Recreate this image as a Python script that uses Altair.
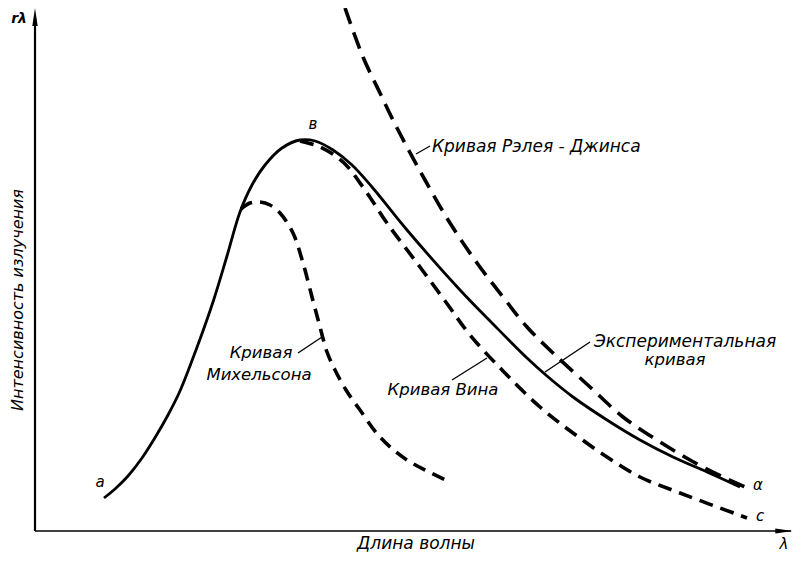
import altair as alt
import pandas as pd

# Arbitrary units: wavelength (x) and radiation intensity (y)
exp_x = [13.8, 16.0, 18.6, 21.4, 24.2, 26.6, 29.0, 32.2, 35.6, 38.4, 41.0, 43.4, 46.0, 49.4, 53.0, 56.0, 59.6,
         63.4, 67.4, 74.4, 85.0, 91.6, 98.4, 102.4, 107.6, 114.4, 121.0, 127.6, 134.4, 141.0]
exp_y = [6.6, 8.4, 11.0, 14.6, 19.0, 23.2, 28.0, 36.2, 45.8, 55.0, 63.8, 69.2, 73.2, 76.6, 78.2, 78.0, 76.2,
         73.2, 68.8, 60.2, 48.2, 41.4, 34.6, 31.0, 26.8, 22.2, 18.2, 14.8, 11.8, 8.8]

wien_x = [53.0, 57.0, 61.6, 66.0, 70.4, 77.0, 82.6, 87.0, 93.6, 101.0, 107.6, 114.4, 121.0, 129.0, 142.4]
wien_y = [78.0, 76.8, 73.8, 68.2, 61.6, 52.8, 45.2, 39.2, 32.0, 24.8, 19.6, 14.8, 10.8, 7.6, 2.6]

rj_x = [62.0, 65.6, 69.0, 71.6, 74.4, 78.0, 83.0, 88.4, 93.6, 98.4, 103.6, 111.0, 117.6, 124.4, 131.0, 137.6, 142.0]
rj_y = [104.6, 94.8, 87.6, 82.2, 76.8, 70.2, 61.6, 53.6, 46.8, 40.8, 35.6, 28.8, 22.8, 18.2, 14.2, 10.8, 8.8]

mich_x = [41.2, 43.0, 45.0, 47.0, 49.0, 51.6, 53.6, 55.4, 57.0, 58.4, 60.0, 62.2, 65.0, 69.0, 74.4, 83.0]
mich_y = [64.4, 65.6, 65.8, 65.2, 63.6, 59.6, 53.6, 46.8, 40.8, 35.8, 32.2, 28.2, 24.2, 18.8, 14.2, 9.8]

# labels
lab_text = ["Кривая Рэлея - Джинса", "в", "Кривая", "Михельсона", "Кривая Вина",
            "Экспериментальная", "кривая", "a", "α", "c", "Длина волны", "λ"]
lab_x = [79.4, 55.6, 45.2, 44.8, 81.6, 130.0, 128.0, 13.0, 144.6, 145.0, 76.2, 149.8]
lab_y = [76.8, 81.4, 35.6, 31.2, 28.2, 37.8, 34.2, 9.8, 9.2, 3.0, -2.6, -2.6]
lab_align = ["left", "center", "center", "center", "center", "center", "center",
             "center", "center", "center", "center", "center"]
lab_size = [17, 15, 16.5, 16.5, 16.5, 17, 16.5, 15, 15, 15, 17, 15]

# leader lines from curves to labels
lead_x = [76.2, 52.6, 83.4, 102.0]
lead_y = [75.4, 35.6, 30.2, 31.8]
lead_x2 = [79.0, 57.4, 90.4, 111.0]
lead_y2 = [77.0, 38.8, 34.6, 37.8]

X_MAX, Y_MAX = 152.2, 104.6

xs = alt.Scale(domain=[0, X_MAX])
ys = alt.Scale(domain=[0, Y_MAX])
X = lambda f: alt.X(f, scale=xs, axis=None)
Y = lambda f: alt.Y(f, scale=ys, axis=None)


def curve(xv, yv, dash=None, width=3.0):
    df = pd.DataFrame({"x": xv, "y": yv, "o": list(range(len(xv)))})
    kw = dict(color="black", strokeWidth=width, interpolate="catmull-rom", strokeCap="butt")
    if dash:
        kw["strokeDash"] = dash
    return alt.Chart(df).mark_line(**kw).encode(x=X("x:Q"), y=Y("y:Q"), order="o:Q")


exp_line = curve(exp_x, exp_y, width=2.8)
wien_line = curve(wien_x, wien_y, dash=[14, 8], width=3.6)
rj_line = curve(rj_x, rj_y, dash=[17, 9], width=3.6)
mich_line = curve(mich_x, mich_y, dash=[13, 8], width=3.6)

# axes
axes_df = pd.DataFrame({"x": [0, 0], "y": [0, 0], "x2": [0, X_MAX - 1], "y2": [Y_MAX - 2, 0],
                        "w": [2.2, 1.6]})
axes = alt.Chart(axes_df).mark_rule(color="black").encode(
    x=X("x:Q"), y=Y("y:Q"), x2="x2:Q", y2="y2:Q", strokeWidth=alt.StrokeWidth("w:Q", scale=None))

up = alt.Chart(pd.DataFrame({"x": [0], "y": [Y_MAX - 1.8]})).mark_point(
    shape="M0,-1L0.3,1L-0.3,1Z", size=324, filled=True, color="black", opacity=1).encode(
    x=X("x:Q"), y=Y("y:Q"))
right = alt.Chart(pd.DataFrame({"x": [X_MAX - 2.4], "y": [0]})).mark_point(
    shape="M1,0L-1,0.3L-1,-0.3Z", size=300, filled=True, color="black", opacity=1).encode(
    x=X("x:Q"), y=Y("y:Q"))

leads = alt.Chart(pd.DataFrame({"x": lead_x, "y": lead_y, "x2": lead_x2, "y2": lead_y2})).mark_rule(
    color="black", strokeWidth=1.3).encode(x=X("x:Q"), y=Y("y:Q"), x2="x2:Q", y2="y2:Q")

lab_df = pd.DataFrame({"t": lab_text, "x": lab_x, "y": lab_y, "a": lab_align, "s": lab_size})
texts = []
for al in ["left", "center"]:
    texts.append(alt.Chart(lab_df[lab_df.a == al]).mark_text(
        align=al, baseline="middle", font="DejaVu Sans", fontStyle="italic",
        color="black").encode(x=X("x:Q"), y=Y("y:Q"), text="t:N",
                              size=alt.Size("s:Q", scale=None)))

ytitle = alt.Chart(pd.DataFrame({"t": ["Интенсивность излучения"], "x": [-3.4], "y": [46.2]})).mark_text(
    angle=270, align="center", baseline="middle", font="DejaVu Sans", fontStyle="italic",
    fontSize=16, color="black").encode(x=X("x:Q"), y=Y("y:Q"), text="t:N")

rl = alt.Chart(pd.DataFrame({"t": ["rλ"], "x": [-3.2], "y": [102.4]})).mark_text(
    align="center", baseline="middle", font="DejaVu Sans", fontStyle="italic", fontWeight="bold",
    fontSize=14, color="black").encode(x=X("x:Q"), y=Y("y:Q"), text="t:N")

chart = alt.layer(axes, up, right, exp_line, wien_line, rj_line, mich_line, leads, *texts, ytitle, rl).properties(
    width=761, height=523,
    autosize=alt.AutoSizeParams(type="none"),
    padding={"left": 27, "top": 0, "right": 0, "bottom": 22},
    background="white",
).configure_view(stroke=None)

chart.save("out.html", embed_options={"renderer": "svg", "actions": False})
